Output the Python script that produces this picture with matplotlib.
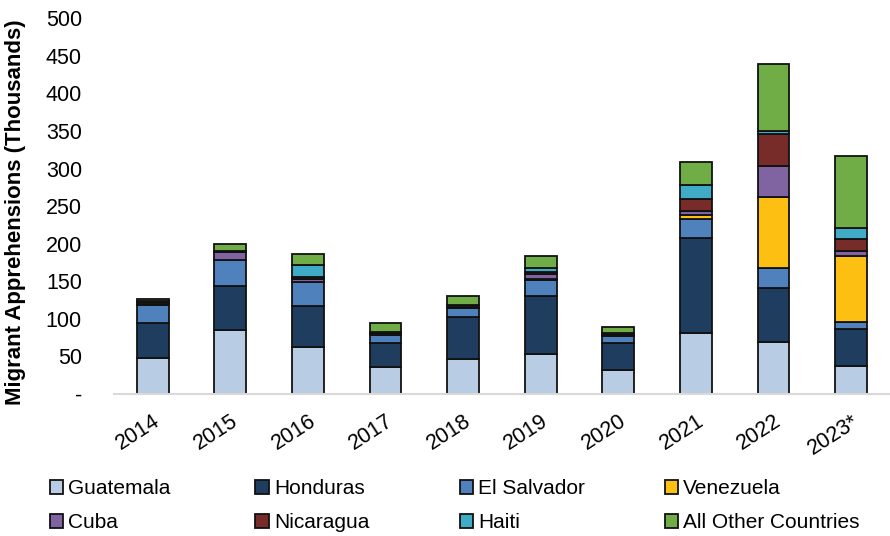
import matplotlib
matplotlib.use("Agg")
import matplotlib.pyplot as plt
import numpy as np

plt.rcParams["font.family"] = ["Liberation Sans", "DejaVu Sans"]

years = ["2014", "2015", "2016", "2017", "2018", "2019", "2020", "2021", "2022", "2023*"]

guatemala = [48, 85, 63, 36, 46, 53, 32, 81, 69, 37]
honduras = [47, 58, 54, 32, 56, 78, 36, 127, 72, 50]
el_salvador = [23, 35, 32, 11, 12, 21, 9, 25, 26, 9]
venezuela = [0.5, 0.5, 0.5, 0.5, 0.5, 0.5, 0.5, 4.5, 95, 87]
cuba = [1.5, 10, 4, 1, 1.5, 7, 1, 6.5, 42, 7]
nicaragua = [2.5, 1.5, 1.5, 1.5, 2.5, 3, 1.5, 15, 42, 16]
haiti = [1, 0.5, 17, 1, 0.5, 5, 1, 19.5, 3.5, 15.5]
other = [3.5, 8.5, 14, 11, 12, 16, 8, 30, 90, 95]

series = [
    ("Guatemala", guatemala, "#B8CCE4"),
    ("Honduras", honduras, "#1F3D5F"),
    ("El Salvador", el_salvador, "#4F81BD"),
    ("Venezuela", venezuela, "#FDBF12"),
    ("Cuba", cuba, "#8064A2"),
    ("Nicaragua", nicaragua, "#772C2A"),
    ("Haiti", haiti, "#3FABC6"),
    ("All Other Countries", other, "#70AD47"),
]

fig = plt.figure(figsize=(8.9, 5.36), dpi=100)
ax = fig.add_axes([0.128, 0.265, 0.872, 0.701])

x = np.arange(len(years))
bottom = np.zeros(len(years))
handles = []
for name, vals, color in series:
    b = ax.bar(x, vals, width=0.41, bottom=bottom, color=color,
               edgecolor="#111111", linewidth=1.3, label=name)
    handles.append(b)
    bottom += np.array(vals)

ax.set_xlim(-0.5, len(years) - 0.5)
ax.set_ylim(0, 500)
ax.set_yticks(np.arange(0, 501, 50))
ax.set_yticklabels(["-"] + [str(v) for v in range(50, 501, 50)], fontsize=15.5)
ax.set_xticks(x)
ax.set_xticklabels(years, rotation=33, ha="right", rotation_mode="anchor", fontsize=15.5)
ax.tick_params(axis="both", length=0)
ax.tick_params(axis="y", pad=23)
ax.tick_params(axis="x", pad=12)

for s in ["top", "right", "left"]:
    ax.spines[s].set_visible(False)
ax.spines["bottom"].set_color("#D9D9D9")
ax.spines["bottom"].set_linewidth(1.5)

ax.set_ylabel("Migrant Apprehensions (Thousands)", fontsize=16, fontweight="bold")
ax.yaxis.set_label_coords(-0.113, 0.485)

# legend: four columns, filled row by row
col_x = [0.056, 0.287, 0.517, 0.747]
for i, cx in enumerate(col_x):
    idx = [i, i + 4]
    fig.legend(handles=[handles[j] for j in idx], labels=[series[j][0] for j in idx],
               loc="upper left", bbox_to_anchor=(cx, 0.106), frameon=False,
               fontsize=15, handlelength=0.63, handleheight=0.63,
               handletextpad=0.25, labelspacing=0.73, borderaxespad=0, borderpad=0)

fig.savefig("out.png", dpi=100)
